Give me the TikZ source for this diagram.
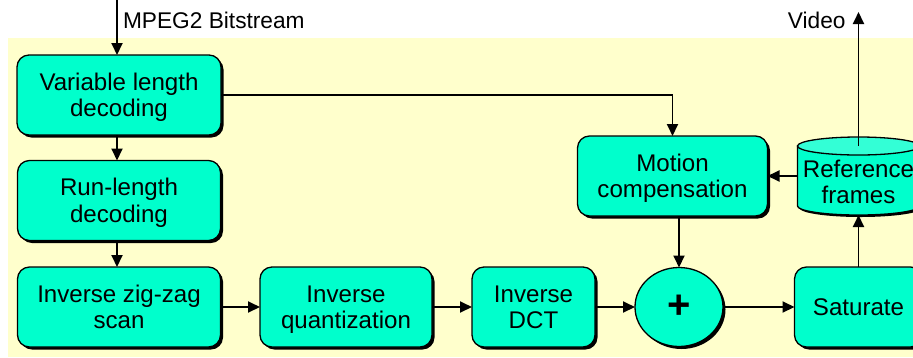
\documentclass[tikz,border=0pt]{standalone}
\usepackage{fontspec}
\setmainfont{Liberation Sans}
\usetikzlibrary{positioning,shapes.geometric,shadows,arrows.meta,calc,backgrounds}
\definecolor{blkfill}{HTML}{00FFCC}
\definecolor{endfill}{HTML}{33FFD6}
\definecolor{bgyellow}{HTML}{FFFFCC}

\begin{document}
\begin{tikzpicture}
[x=1pt,y=1pt,
 every node/.style={font=\fontsize{24.1}{26.5}\selectfont,align=center,inner sep=0pt,outer sep=0pt},
 base/.style={draw=black,line width=1.3pt,fill=blkfill,
   drop shadow={shadow xshift=2.5pt,shadow yshift=-2.5pt,fill=black,opacity=1}},
 blk/.style={base,rectangle,rounded corners=12pt,minimum height=80pt,text depth=0pt},
 sum/.style={base,ellipse,minimum width=88pt,minimum height=79pt,font=\fontsize{40}{40}\selectfont\bfseries},
 store/.style={rectangle,minimum width=122pt,minimum height=78pt},
 io/.style={font=\fontsize{22.7}{25}\selectfont},
 flow/.style={line width=1.9pt,-{Triangle[length=12pt,width=11pt]}}]
\useasboundingbox (0,0) rectangle (913,-357);
\node[blk,minimum width=204pt] (vld)                                       at (119,-95) {Variable length\\decoding};
\node[blk,minimum width=203pt] (rld)  [on grid,below=105.5pt of vld]              {Run-length\\decoding};
\node[blk,minimum width=203pt] (izz)  [on grid,below=106.5pt of rld]              {Inverse zig-zag\\scan};
\node[blk,minimum width=172pt] (iq)   [on grid,right=227pt of izz]                {Inverse\\quantization};
\node[blk,minimum width=123pt] (idct) [on grid,right=187.5pt of iq]               {Inverse\\DCT};
\node[sum]                     (add)  [on grid,right=145.5pt of idct]             {+};
\node[blk,minimum width=128pt] (sat)  [on grid,right=179.5pt of add]              {Saturate};
\node[blk,minimum width=190pt] (mc)   [on grid,above left=131pt and 6.5pt of add] {Motion\\compensation};
\node[store,label={[yshift=-6pt]center:Reference\\frames}] (ref) [on grid,right=186pt of mc] {};
\coordinate (bs)  at (117,0);
\coordinate (vid) at ($(ref.north)+(0,125)$);
\node[io,anchor=west] (bstxt) at ($(bs)+(6,-20)$)   {MPEG2 Bitstream};
\node[io,anchor=east] (vtxt)  at ($(vid)+(-13,-8)$) {Video};
% background and the stored frames
\begin{scope}[on background layer]
\fill[bgyellow] (8,-38) rectangle (913,-357);
\draw[line width=1.3pt,fill=blkfill,drop shadow={shadow xshift=2pt,shadow yshift=-2pt,fill=black,opacity=1}]
  ($(ref.north west)+(0,-9)$) -- ($(ref.south west)+(0,9)$)
  arc[start angle=180,end angle=360,x radius=61pt,y radius=9pt]
  -- ($(ref.north east)+(0,-9)$) -- cycle;
\draw[line width=1.3pt,fill=endfill] ($(ref.north)+(0,-9)$) ellipse[x radius=61pt,y radius=9pt];
\end{scope}
% data flow
\draw[flow] (bs) -- (bs |- vld.north);
\draw[flow] (vld.south -| bs) -- (rld.north -| bs);
\draw[flow] (rld.south -| bs) -- (izz.north -| bs);
\draw[flow] (izz) -- (iq);
\draw[flow] (iq) -- (idct);
\draw[flow] (idct) -- (add);
\draw[flow] (add) -- (sat);
\draw[flow] (vld.east) -| (mc.north);
\draw[flow] (mc.south -| add) -- (add.north);
\draw[flow] (ref.west) -- (ref.west -| mc.east);
\draw[flow] (sat) -- (ref);
\draw[flow] ($(ref.north)+(0,-9)$) -- (vid);
\end{tikzpicture}
\end{document}
